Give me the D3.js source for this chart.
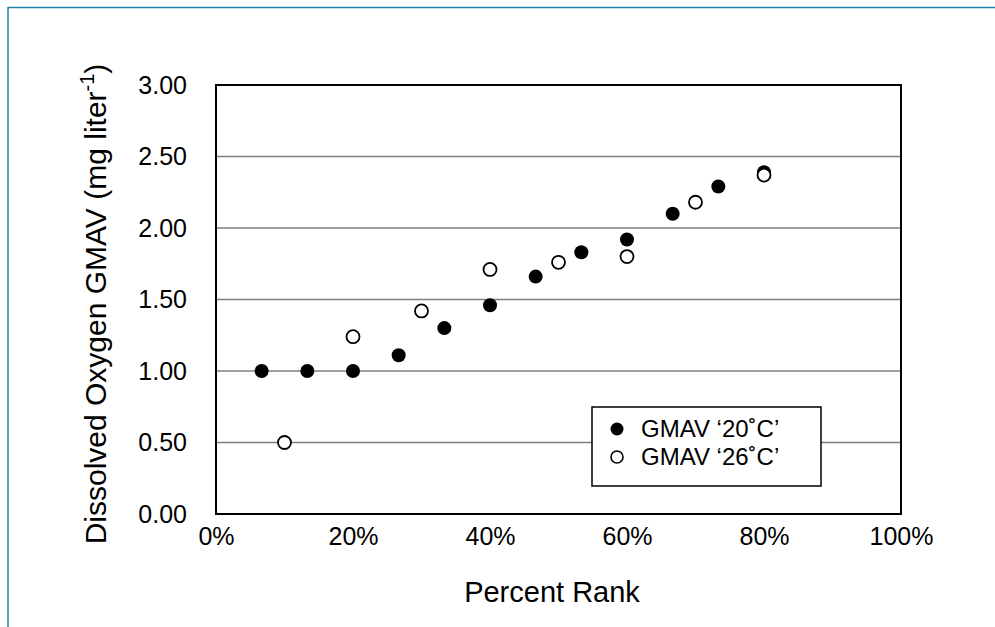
<!DOCTYPE html>
<html>
<head>
<meta charset="utf-8">
<script src="https://cdn.jsdelivr.net/npm/d3@7"></script>
<style>
  html, body { margin: 0; padding: 0; background: #fff; }
  svg { display: block; }
  text { font-family: "Liberation Sans", Arial, sans-serif; fill: #000; }
</style>
</head>
<body>
<svg id="chart" width="995" height="627"></svg>
<script>
// ---- Data ----
const rank20 = [1/15, 2/15, 3/15, 4/15, 5/15, 6/15, 7/15, 8/15, 9/15, 10/15, 11/15, 12/15];
const gmav20 = [1.00, 1.00, 1.00, 1.11, 1.30, 1.46, 1.66, 1.83, 1.92, 2.10, 2.29, 2.39];
const rank26 = [0.10, 0.20, 0.30, 0.40, 0.50, 0.60, 0.70, 0.80];
const gmav26 = [0.50, 1.24, 1.42, 1.71, 1.76, 1.80, 2.18, 2.37];
const xTicks = [0, 0.2, 0.4, 0.6, 0.8, 1.0];
const yTicks = [0, 0.5, 1.0, 1.5, 2.0, 2.5, 3.0];
const legendLabels = ["GMAV \u201820\u02DAC\u2019", "GMAV \u201826\u02DAC\u2019"];

const svg = d3.select("#chart");

// outer frame (top and left edges only)
svg.append("line").attr("x1", 8).attr("y1", 7.5).attr("x2", 995).attr("y2", 7.5)
  .attr("stroke", "#1f7fa3").attr("stroke-width", 1.5);
svg.append("line").attr("x1", 8).attr("y1", 7).attr("x2", 8).attr("y2", 627)
  .attr("stroke", "#1f7fa3").attr("stroke-width", 1.5);

const L = 216, R = 901, T = 85, B = 514;
const x = d3.scaleLinear().domain([0, 1]).range([L, R]);
const y = d3.scaleLinear().domain([0, 3]).range([B, T]);

// gridlines
svg.append("g").selectAll("line").data(yTicks.filter(d => d > 0 && d < 3)).join("line")
  .attr("x1", L).attr("x2", R).attr("y1", d => y(d)).attr("y2", d => y(d))
  .attr("stroke", "#7f7f7f").attr("stroke-width", 1.5);

// plot border
svg.append("rect").attr("x", L).attr("y", T).attr("width", R - L).attr("height", B - T)
  .attr("fill", "none").attr("stroke", "#000").attr("stroke-width", 2);

// y axis labels
const yAxis = d3.axisLeft(y).tickValues(yTicks).tickFormat(d3.format(".2f")).tickSize(0).tickPadding(29);
const gy = svg.append("g").attr("transform", `translate(${L},0)`).call(yAxis);
gy.select(".domain").remove();
gy.selectAll("text").attr("font-size", 25).style("font-family", "Liberation Sans, Arial, sans-serif");

// x axis labels
const xAxis = d3.axisBottom(x).tickValues(xTicks).tickFormat(d3.format(".0%")).tickSize(0).tickPadding(13);
const gx = svg.append("g").attr("transform", `translate(0,${B})`).call(xAxis);
gx.select(".domain").remove();
gx.selectAll("text").attr("font-size", 25).style("font-family", "Liberation Sans, Arial, sans-serif");

// axis titles
svg.append("text").attr("x", 552).attr("y", 602).attr("text-anchor", "middle")
  .attr("font-size", 29).text("Percent Rank");

const yt = svg.append("text").attr("transform", "translate(106,304) rotate(-90)")
  .attr("text-anchor", "middle").attr("font-size", 30);
yt.append("tspan").text("Dissolved Oxygen GMAV (mg liter");
yt.append("tspan").attr("font-size", 20).attr("dy", -12).text("-1");
yt.append("tspan").attr("dy", 12).text(")");

// points
const d20 = rank20.map((r, i) => ({ r, v: gmav20[i] }));
const d26 = rank26.map((r, i) => ({ r, v: gmav26[i] }));

svg.append("g").selectAll("circle").data(d20).join("circle")
  .attr("cx", d => x(d.r)).attr("cy", d => y(d.v)).attr("r", 7)
  .attr("fill", "#000");
svg.append("g").selectAll("circle").data(d26).join("circle")
  .attr("cx", d => x(d.r)).attr("cy", d => y(d.v)).attr("r", 6.5)
  .attr("fill", "#fff").attr("stroke", "#000").attr("stroke-width", 1.8);

// legend
const lg = svg.append("g");
lg.append("rect").attr("x", 592).attr("y", 407).attr("width", 229).attr("height", 79)
  .attr("fill", "#fff").attr("stroke", "#000").attr("stroke-width", 1.5);
const items = [{ label: legendLabels[0], filled: true }, { label: legendLabels[1], filled: false }];
items.forEach((it, i) => {
  const cy = 429 + i * 28;
  lg.append("circle").attr("cx", 617).attr("cy", cy).attr("r", it.filled ? 6.5 : 6)
    .attr("fill", it.filled ? "#000" : "#fff").attr("stroke", "#000").attr("stroke-width", it.filled ? 0 : 1.6);
  lg.append("text").attr("x", 641).attr("y", cy).attr("dy", "0.35em").attr("font-size", 24).text(it.label);
});
</script>
</body>
</html>
